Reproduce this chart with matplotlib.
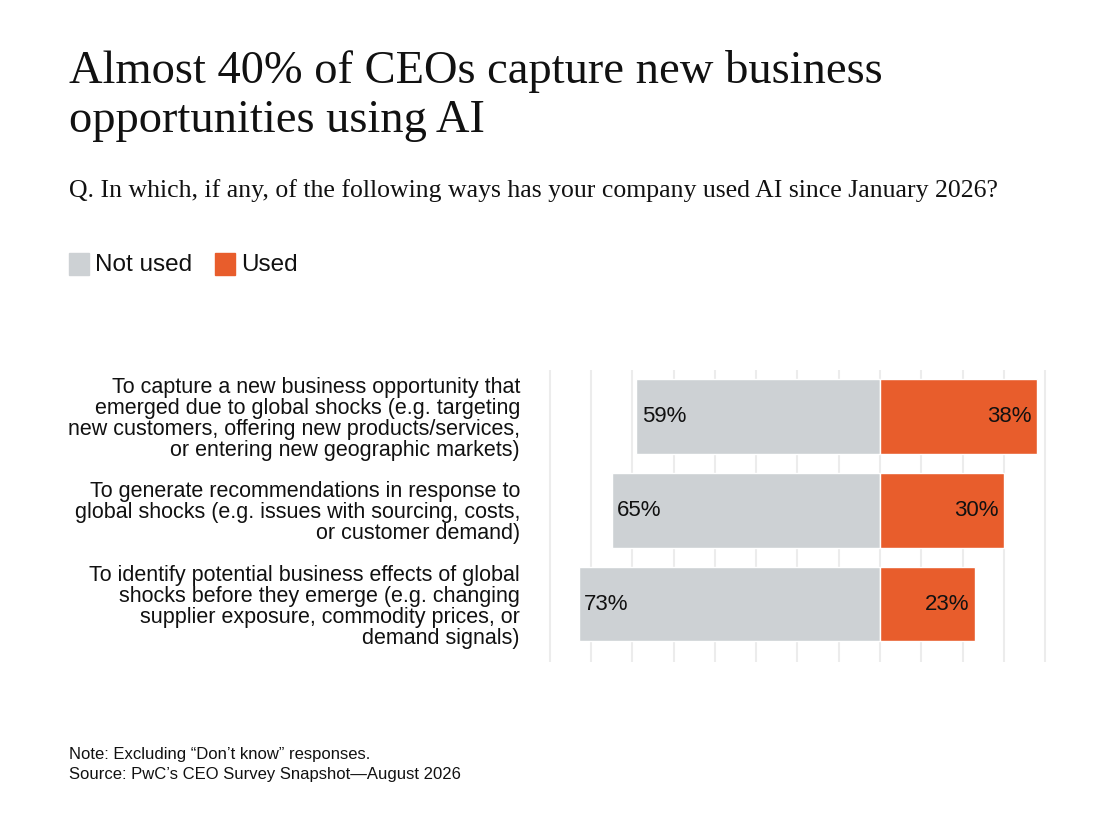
import matplotlib
matplotlib.use("Agg")
import matplotlib.pyplot as plt
from matplotlib.patches import Rectangle

categories = [
    "To capture a new business opportunity that\nemerged due to global shocks (e.g. targeting\nnew customers, offering new products/services,\nor entering new geographic markets)",
    "To generate recommendations in response to\nglobal shocks (e.g. issues with sourcing, costs,\nor customer demand)",
    "To identify potential business effects of global\nshocks before they emerge (e.g. changing\nsupplier exposure, commodity prices, or\ndemand signals)",
]
not_used = [59, 65, 73]
used = [38, 30, 23]

GREY = "#cdd1d4"
ORANGE = "#e85d2c"
SANS = "Liberation Sans"
SERIF = "Liberation Serif"

fig = plt.figure(figsize=(11.2, 8.27), dpi=100)
ax = fig.add_axes([0.489, 0.1995, 0.446, 0.353])
y = list(range(len(categories)))
ax.barh(y, [-v for v in not_used], height=0.8, color=GREY, edgecolor="white", linewidth=1)
ax.barh(y, used, height=0.8, color=ORANGE, edgecolor="white", linewidth=1)
for i in y:
    ax.text(-not_used[i] + 1.3, i, f"{not_used[i]}%", va="center", ha="left", fontsize=16, family=SANS, color="#111")
    ax.text(used[i] - 1.3, i, f"{used[i]}%", va="center", ha="right", fontsize=16, family=SANS, color="#111")
ax.set_xlim(-80.5, 40.5)
ax.set_ylim(2.62, -0.5)
ax.set_xticks(range(-80, 41, 10))
ax.grid(axis="x", color="#ececec", linewidth=1.5)
ax.set_axisbelow(True)
ax.tick_params(length=0, labelbottom=False)
ax.set_yticks(y)
ax.set_yticklabels(categories, fontsize=15.5, family=SANS, linespacing=1.0, color="#111")
ax.tick_params(axis="y", pad=20)
for s in ax.spines.values():
    s.set_visible(False)

fig.text(0.062, 0.94, "Almost 40% of CEOs capture new business\nopportunities using AI", fontsize=33.5,
         family=SERIF, va="top", ha="left", linespacing=1.2, color="#111")
fig.text(0.062, 0.77, "Q. In which, if any, of the following ways has your company used AI since January 2026?",
         fontsize=18.5, family=SERIF, va="center", ha="left", color="#111")

fig.patches.append(Rectangle((0.062, 0.668), 0.0175, 0.0255, transform=fig.transFigure, color=GREY))
fig.text(0.085, 0.680, "Not used", fontsize=17.5, family=SANS, va="center", color="#111")
fig.patches.append(Rectangle((0.192, 0.668), 0.0175, 0.0255, transform=fig.transFigure, color=ORANGE))
fig.text(0.215, 0.680, "Used", fontsize=17.5, family=SANS, va="center", color="#111")

fig.text(0.062, 0.088, "Note: Excluding \u201cDon\u2019t know\u201d responses.", fontsize=12, family=SANS, va="center", color="#111")
fig.text(0.062, 0.063, "Source: PwC\u2019s CEO Survey Snapshot\u2014August 2026", fontsize=12, family=SANS, va="center", color="#111")

fig.savefig("out.png", dpi=100)
